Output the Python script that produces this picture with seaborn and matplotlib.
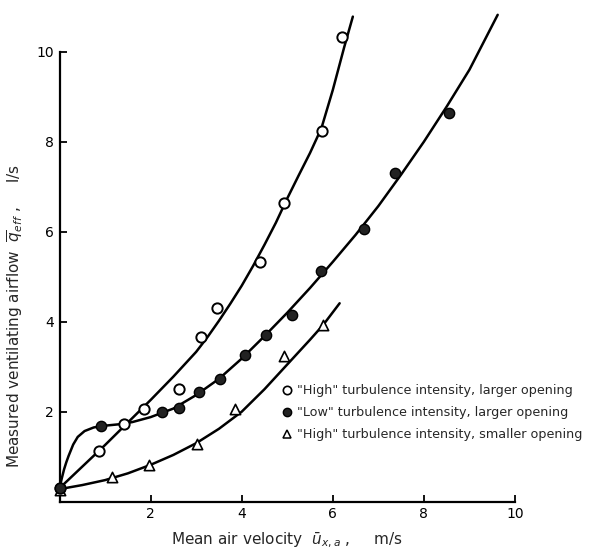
import numpy as np
import pandas as pd
import matplotlib
matplotlib.use("Agg")
import matplotlib.pyplot as plt
import seaborn as sns
from matplotlib.lines import Line2D

# style
sns.set_style("ticks")
plt.rcParams['font.family'] = ['DejaVu Sans']
plt.rcParams['mathtext.fontset'] = 'dejavusans'

# measured points
open_x = [0, 0.87, 1.41, 1.85, 2.62, 3.11, 3.46, 4.40, 4.93, 5.77, 6.21]
open_y = [0.3, 1.13, 1.73, 2.07, 2.51, 3.65, 4.31, 5.33, 6.64, 8.24, 10.32]
filled_x = [0, 0.90, 2.26, 2.63, 3.07, 3.52, 4.07, 4.54, 5.11, 5.73, 6.68, 7.37, 8.56]
filled_y = [0.3, 1.68, 2.0, 2.09, 2.43, 2.73, 3.27, 3.70, 4.16, 5.13, 6.05, 7.30, 8.63]
tri_x = [0, 1.15, 1.96, 3.01, 3.86, 4.92, 5.79]
tri_y = [0.27, 0.54, 0.82, 1.28, 2.07, 3.24, 3.93]

# fitted curves
open_cx = [0, 0.5, 1.0, 1.5, 2.0, 2.5, 3.0, 3.25, 3.5, 3.75, 4.0, 4.25, 4.5, 4.75, 5.0,
           5.25, 5.5, 5.75, 6.0, 6.25, 6.44]
open_cy = [0.3, 0.78, 1.26, 1.76, 2.26, 2.78, 3.33, 3.66, 4.02, 4.4, 4.8, 5.24, 5.71, 6.2,
           6.74, 7.25, 7.75, 8.3, 9.15, 10.1, 10.78]
filled_cx = [0, 0.05, 0.1, 0.15, 0.2, 0.3, 0.4, 0.55, 0.75, 1.0, 1.3, 1.6, 2.0, 2.5, 3.0,
             3.5, 4.0, 4.5, 5.0, 5.5, 6.0, 6.5, 7.0, 7.5, 8.0, 8.5, 9.0, 9.62]
filled_cy = [0.3, 0.52, 0.72, 0.88, 1.02, 1.27, 1.44, 1.57, 1.65, 1.69, 1.72, 1.77, 1.88,
             2.07, 2.37, 2.73, 3.18, 3.68, 4.2, 4.75, 5.33, 5.93, 6.57, 7.27, 8.0, 8.78,
             9.6, 10.82]
tri_cx = [0, 0.5, 1.0, 1.5, 2.0, 2.5, 3.0, 3.5, 4.0, 4.5, 5.0, 5.5, 5.79, 6.15]
tri_cy = [0.28, 0.37, 0.48, 0.63, 0.82, 1.04, 1.3, 1.62, 2.0, 2.5, 3.05, 3.6, 3.93, 4.41]

labels = ['"High" turbulence intensity, larger opening',
          '"Low" turbulence intensity, larger opening',
          '"High" turbulence intensity, smaller opening']

fig = plt.figure(figsize=(5.94, 5.52), dpi=100)
ax = fig.add_axes([0.1002, 0.0911, 0.7668, 0.8886])

for cx, cy in [(open_cx, open_cy), (filled_cx, filled_cy), (tri_cx, tri_cy)]:
    sns.lineplot(x=cx, y=cy, sort=False, estimator=None, color='black', lw=1.8, ax=ax)

sns.scatterplot(x=open_x, y=open_y, marker='o', s=55, facecolor='white',
                edgecolor='black', linewidth=1.4, ax=ax, zorder=5, clip_on=False)
sns.scatterplot(x=filled_x, y=filled_y, marker='o', s=55, color='#222222',
                edgecolor='black', linewidth=1.0, ax=ax, zorder=5, clip_on=False)
sns.scatterplot(x=tri_x, y=tri_y, marker='^', s=55, facecolor='white',
                edgecolor='black', linewidth=1.2, ax=ax, zorder=4, clip_on=False)

ax.set_xlim(0, 10)
ax.set_ylim(0, 10.9)
ax.set_xticks([2, 4, 6, 8, 10])
ax.set_yticks([2, 4, 6, 8, 10])
ax.set_xticklabels(['2', '4', '6', '8', '10'])
ax.set_yticklabels(['2', '4', '6', '8', '10'])
ax.tick_params(direction='in', length=5, width=1.3, labelsize=10, colors='black', pad=4)
for side in ['top', 'right']:
    ax.spines[side].set_visible(False)
ax.spines['left'].set_bounds(0, 10)
ax.spines['left'].set_linewidth(1.6)
ax.spines['bottom'].set_linewidth(1.6)
ax.spines['left'].set_color('black')
ax.spines['bottom'].set_color('black')

ax.set_xlabel(r'Mean air velocity  $\bar{u}_{x,a}$ ,     m/s', fontsize=11)
ax.set_ylabel(r'Measured ventilating airflow  $\overline{q}_{eff}$ ,     l/s', fontsize=11)
ax.xaxis.set_label_coords(0.5, -0.058)
ax.yaxis.set_label_coords(-0.074, 0.379)

handles = [
    Line2D([], [], ls='none', marker='o', ms=6, mfc='white', mec='black', mew=1.2),
    Line2D([], [], ls='none', marker='o', ms=6, mfc='#222222', mec='black', mew=1.0),
    Line2D([], [], ls='none', marker='^', ms=6, mfc='white', mec='black', mew=1.1),
]
fig.legend(handles, labels, loc='upper left', bbox_to_anchor=(281 / 594, 1 - 384 / 552),
           frameon=False, fontsize=9.2, handletextpad=0.25, handlelength=1.0,
           labelspacing=0.72, borderaxespad=0, borderpad=0)

fig.savefig('out.png', dpi=100)
